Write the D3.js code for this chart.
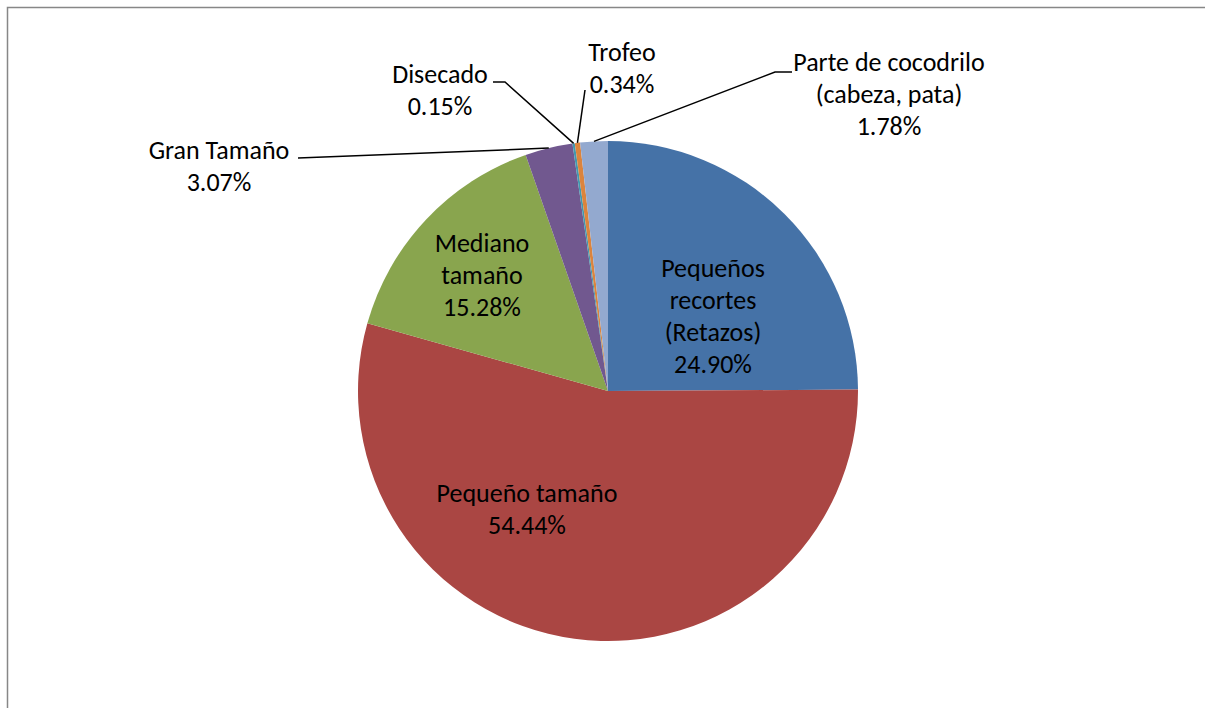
<!DOCTYPE html>
<html>
<head>
<meta charset="utf-8">
<script src="https://cdn.jsdelivr.net/npm/d3@7"></script>
<style>
  html, body { margin: 0; padding: 0; background: #fff; }
  svg { display: block; }
  text { font-family: Carlito, Calibri, Lato, "Open Sans", sans-serif; fill: #000; }
</style>
</head>
<body>
<svg id="chart" width="1205" height="708"></svg>
<script>
// ---- data ----
const categories = ["Pequeños recortes (Retazos)", "Pequeño tamaño", "Mediano tamaño", "Gran Tamaño", "Disecado", "Trofeo", "Parte de cocodrilo (cabeza, pata)"];
const values = [24.90, 54.44, 15.28, 3.07, 0.15, 0.34, 1.78];
const valueLabels = ["24.90%", "54.44%", "15.28%", "3.07%", "0.15%", "0.34%", "1.78%"];
const colors = ["#4572A7", "#AA4643", "#89A54E", "#71588F", "#4198AF", "#DB843D", "#93A9CF"];
// label text lines (category wrapped as in the picture) + percentage
const labelLines = [
  ["Pequeños", "recortes", "(Retazos)"],
  ["Pequeño tamaño"],
  ["Mediano", "tamaño"],
  ["Gran Tamaño"],
  ["Disecado"],
  ["Trofeo"],
  ["Parte de cocodrilo", "(cabeza, pata)"]
];

// ---- layout ----
const cx = 608, cy = 391, R = 250;
const fontSize = 26, lineH = 32;
// label anchors: centre x, first baseline y
const labelPos = [
  [713, 277], [527, 502], [482, 252], [219, 159], [440, 83], [622, 61], [889, 71]
];
// leader line starting points (text side) with optional elbow
const leaders = {
  3: [[298, 158]],
  4: [[493, 82], [505, 82]],
  5: [[585, 90]],
  6: [[792, 72], [775, 72]]
};

const svg = d3.select("#chart");

// outer frame
svg.append("rect")
  .attr("x", 7.5).attr("y", 7.5)
  .attr("width", 1205).attr("height", 708)
  .attr("fill", "#fff")
  .attr("stroke", "#878787").attr("stroke-width", 1.5);

const pie = d3.pie().sort(null).value(d => d)(values);
const arc = d3.arc().innerRadius(0).outerRadius(R);

const g = svg.append("g").attr("transform", `translate(${cx},${cy})`);
g.selectAll("path.slice")
  .data(pie)
  .join("path")
  .attr("class", "slice")
  .attr("d", arc)
  .attr("fill", (d, i) => colors[i]);

// leader lines
Object.keys(leaders).forEach(k => {
  const i = +k;
  const a = (pie[i].startAngle + pie[i].endAngle) / 2;
  const end = [cx + R * Math.sin(a), cy - R * Math.cos(a)];
  const pts = leaders[k].concat([end]);
  svg.append("path")
    .attr("d", d3.line()(pts))
    .attr("fill", "none")
    .attr("stroke", "#000")
    .attr("stroke-width", 1.5);
});

// labels
labelLines.forEach((lines, i) => {
  const all = lines.concat([valueLabels[i]]);
  const t = svg.append("text")
    .attr("text-anchor", "middle")
    .attr("font-size", fontSize);
  all.forEach((s, j) => {
    t.append("tspan")
      .attr("x", labelPos[i][0])
      .attr("y", labelPos[i][1] + j * lineH)
      .text(s);
  });
});
</script>
</body>
</html>
